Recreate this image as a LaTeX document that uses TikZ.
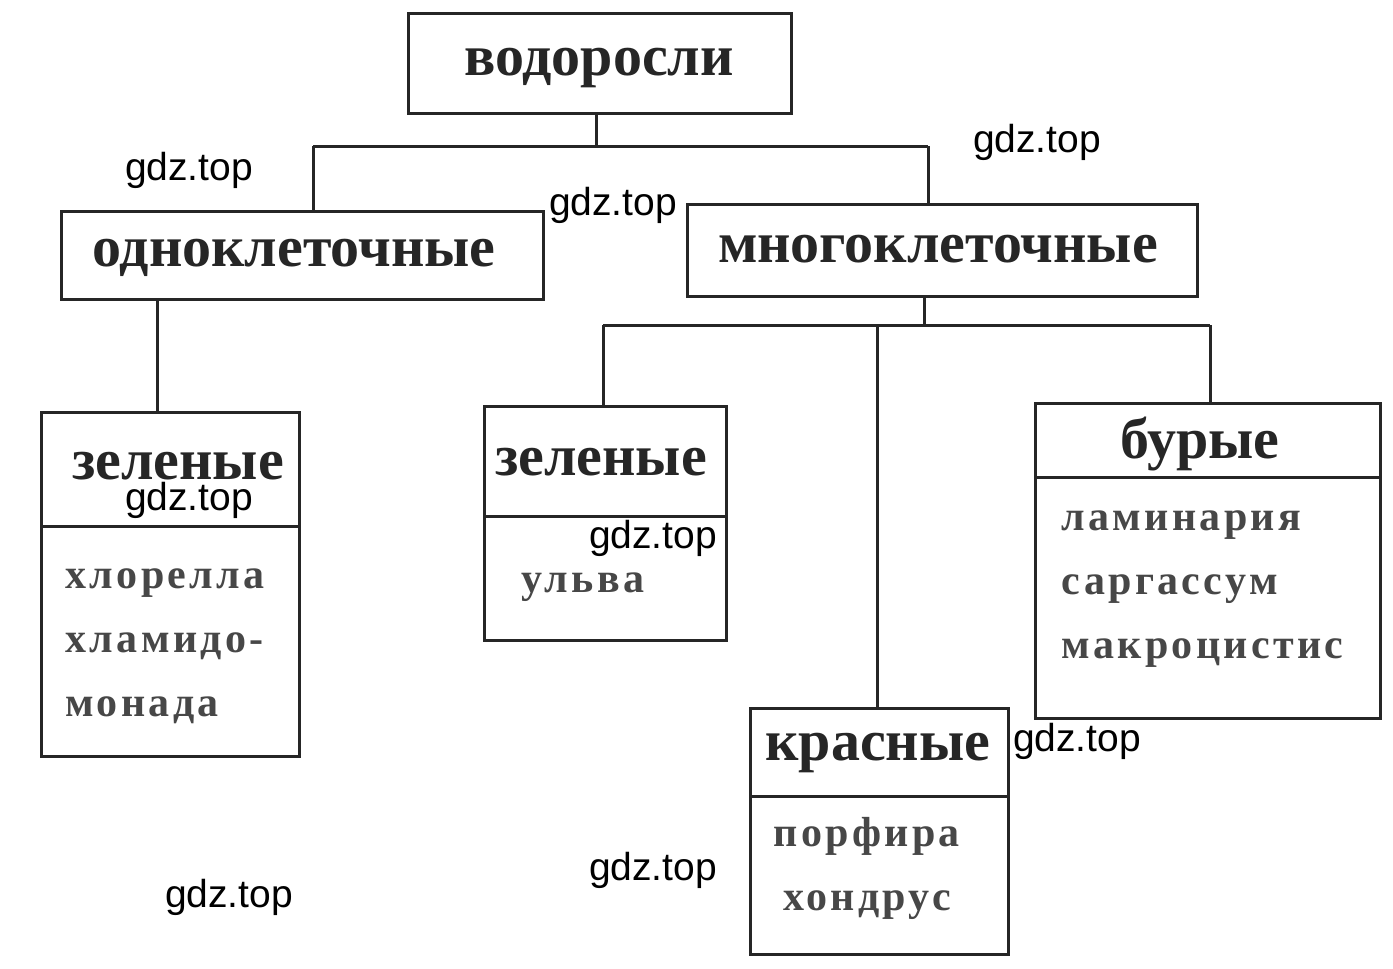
\documentclass[tikz,border=0pt]{standalone}
\usepackage{fontspec}
\setmainfont{Liberation Serif}
\newfontfamily\wm{Liberation Sans}
\begin{document}
\begin{tikzpicture}[x=1pt,y=-1pt,
  bx/.style={draw=black!85,line width=3pt},
  ln/.style={draw=black!85,line width=3pt},
  hd/.style={font=\fontsize{58}{60}\selectfont\bfseries,text=black!85},
  it/.style={font=\fontsize{42}{64}\selectfont\bfseries\addfontfeature{LetterSpace=8},text=black!72,align=left,anchor=north west},
  wmk/.style={font=\wm\fontsize{39}{42}\selectfont,text=black}]
\useasboundingbox[fill=white] (0,0) rectangle (1393,969);
% boxes
\draw[bx] (408,13) rectangle (791,113);
\node[hd] (root) at (599,68) {водоросли};
\draw[bx] (61,211) rectangle (543,299);
\node[hd] (uni) at (294,258) {одноклеточные};
\draw[bx] (687,204) rectangle (1197,296);
\node[hd] (multi) at (938,249) {многоклеточные};
\draw[bx] (41,412) rectangle (299,756); \draw[ln] (41,526)--(299,526);
\node[hd] (g1) at (178,466) {зеленые};
\node[it] (g1i) at (62,565) {хлорелла\\хламидо-\\монада};
\draw[bx] (484,406) rectangle (726,640); \draw[ln] (484,516)--(726,516);
\node[hd] (g2) at (601,462) {зеленые};
\node[it] (g2i) at (518,569) {ульва};
\draw[bx] (1035,403) rectangle (1380,718); \draw[ln] (1035,477)--(1380,477);
\node[hd] (br) at (1200,444) {бурые};
\node[it] (bri) at (1058,507) {ламинария\\саргассум\\макроцистис};
\draw[bx] (750,708) rectangle (1008,954); \draw[ln] (750,796)--(1008,796);
\node[hd] (rd) at (878,753) {красные};
\node[it] (rdi) at (768,814) {\hspace*{2pt}порфира\\\hspace*{12pt}хондрус};
% connectors
\draw[ln] (596,113)--(596,146) (313,146)--(928,146) (313,146)--(313,211) (928,146)--(928,204);
\draw[ln] (157,299)--(157,412);
\draw[ln] (924,296)--(924,325) (603,325)--(1210,325) (603,325)--(603,406) (1210,325)--(1210,403) (877,325)--(877,708);
% watermarks
\node[wmk] at (189,170) {gdz.top};
\node[wmk] at (613,205) {gdz.top};
\node[wmk] at (1037,142) {gdz.top};
\node[wmk] at (189,500) {gdz.top};
\node[wmk] at (653,538) {gdz.top};
\node[wmk] at (1077,741) {gdz.top};
\node[wmk] at (653,870) {gdz.top};
\node[wmk] at (229,897) {gdz.top};
\end{tikzpicture}
\end{document}
